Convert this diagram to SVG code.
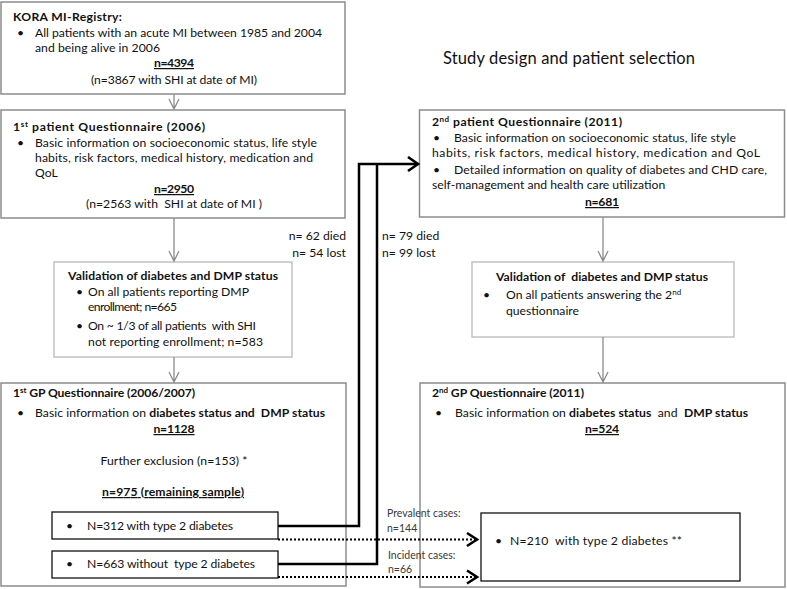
<svg xmlns="http://www.w3.org/2000/svg" width="787" height="589" viewBox="0 0 787 589">
<defs>
<style>
.t{font-family:Lato,"Liberation Sans",sans-serif;font-size:12.2px;fill:#111}
.b{font-weight:700}
.u{text-decoration:underline}
.c{text-anchor:middle}
.e{text-anchor:end}
.s{font-size:8px}
.sm{font-size:10.5px;fill:#3a3a3a}
.box{fill:#fff;stroke:#8c8c8c;stroke-width:1.5}
.vbox{fill:#fff;stroke:#c2c2c2;stroke-width:1.5}
.ibox{fill:#fff;stroke:#111;stroke-width:1.3}
.garrow{stroke:#8c8c8c;stroke-width:1.3;fill:none}
.blk{stroke:#000;stroke-width:2.5;fill:none}
.dot{stroke:#000;stroke-width:2.2;stroke-dasharray:2 2;fill:none}
.head{stroke:#000;stroke-width:2.6;fill:none}
</style>
</defs>
<rect width="787" height="589" fill="#fff"/>

<text class="t" x="443" y="64" textLength="252" style="font-size:16.5px">Study design and patient selection</text>

<g id="kora">
<rect class="box" x="1" y="2" width="344" height="92"/>
<text class="t b" x="13" y="21" textLength="109">KORA MI-Registry:</text>
<text class="t" x="17" y="37">•</text>
<text class="t" x="35" y="37" textLength="287">All patients with an acute MI between 1985 and 2004</text>
<text class="t" x="35" y="52" textLength="125">and being alive in 2006</text>
<text class="t b u c" x="174" y="67" textLength="40">n=4394</text>
<text class="t c" x="174" y="84" textLength="166">(n=3867 with SHI at date of MI)</text>
</g>

<g id="pq1">
<rect class="box" x="1" y="110" width="344" height="108"/>
<text class="t b" x="13" y="131" textLength="192">1<tspan class="s" dy="-4">st</tspan><tspan dy="4"> patient Questionnaire (2006)</tspan></text>
<text class="t" x="17" y="147">•</text>
<text class="t" x="35" y="147" textLength="282">Basic information on socioeconomic status, life style</text>
<text class="t" x="35" y="162" textLength="278">habits, risk factors, medical history, medication and</text>
<text class="t" x="35" y="177">QoL</text>
<text class="t b u c" x="174" y="193" textLength="40">n=2950</text>
<text class="t c" x="174" y="208" textLength="176" xml:space="preserve">(n=2563 with  SHI at date of MI )</text>
</g>

<g id="val1">
<rect class="vbox" x="54" y="262" width="238" height="95"/>
<text class="t b" x="68" y="280" textLength="210">Validation of diabetes and DMP status</text>
<text class="t" x="76" y="296">•</text>
<text class="t" x="88" y="296" textLength="161">On all patients reporting DMP</text>
<text class="t" x="88" y="311" textLength="89">enrollment; n=665</text>
<text class="t" x="76" y="330">•</text>
<text class="t" x="88" y="330" textLength="168" xml:space="preserve">On ~ 1/3 of all patients  with SHI</text>
<text class="t" x="88" y="346" textLength="175">not reporting enrollment; n=583</text>
</g>

<g id="gp1">
<rect class="box" x="1" y="383" width="345" height="203"/>
<text class="t b" x="13" y="397" textLength="182">1<tspan class="s" dy="-4">st</tspan><tspan dy="4"> GP Questionnaire (2006/2007)</tspan></text>
<text class="t" x="17" y="417">•</text>
<text class="t" x="35" y="417" textLength="290" xml:space="preserve">Basic information on <tspan class="b">diabetes status and  DMP status</tspan></text>
<text class="t b u c" x="174" y="433" textLength="41">n=1128</text>
<text class="t c" x="174" y="465" textLength="147">Further exclusion (n=153) *</text>
<text class="t b u c" x="173" y="496" textLength="142">n=975 (remaining sample)</text>
</g>

<g id="t2d">
<rect class="ibox" x="52" y="512" width="226" height="27"/>
<text class="t" x="66" y="530">•</text>
<text class="t" x="87" y="530" textLength="146">N=312 with type 2 diabetes</text>
</g>

<g id="not2d">
<rect class="ibox" x="52" y="551" width="226" height="27"/>
<text class="t" x="66" y="568">•</text>
<text class="t" x="87" y="568" textLength="168" xml:space="preserve">N=663 without  type 2 diabetes</text>
</g>

<g id="pq2">
<rect class="box" x="419.5" y="110" width="365" height="107"/>
<text class="t b" x="432" y="126" textLength="190">2<tspan class="s" dy="-4">nd</tspan><tspan dy="4"> patient Questionnaire (2011)</tspan></text>
<text class="t" x="433" y="142">•</text>
<text class="t" x="454" y="142" textLength="282">Basic information on socioeconomic status, life style</text>
<text class="t" x="432" y="157" textLength="328">habits, risk factors, medical history, medication and QoL</text>
<text class="t" x="433" y="174">•</text>
<text class="t" x="454" y="174" textLength="313">Detailed information on quality of diabetes and CHD care,</text>
<text class="t" x="432" y="189">self-management and health care utilization</text>
<text class="t b u c" x="602" y="206" textLength="34">n=681</text>
</g>

<g id="val2">
<rect class="vbox" x="472" y="262" width="262" height="75"/>
<text class="t b" x="496" y="281" textLength="212" xml:space="preserve">Validation of  diabetes and DMP status</text>
<text class="t" x="483" y="299">•</text>
<text class="t" x="506" y="299">On all patients answering the 2<tspan class="s" dy="-4">nd</tspan></text>
<text class="t" x="506" y="315">questionnaire</text>
</g>

<g id="gp2">
<rect class="box" x="420" y="383" width="365" height="204"/>
<text class="t b" x="432" y="397" textLength="152">2<tspan class="s" dy="-4">nd</tspan><tspan dy="4"> GP Questionnaire (2011)</tspan></text>
<text class="t" x="435" y="417">•</text>
<text class="t" x="455" y="417" textLength="293" xml:space="preserve">Basic information on <tspan class="b">diabetes status</tspan>  and  <tspan class="b">DMP status</tspan></text>
<text class="t b u c" x="602" y="433" textLength="34">n=524</text>
</g>

<g id="t2d2011">
<rect class="ibox" x="481" y="513" width="259" height="68"/>
<text class="t" x="495" y="545">•</text>
<text class="t" x="510" y="545" textLength="172" xml:space="preserve">N=210  with type 2 diabetes **</text>
</g>

<g id="connectors">
<path class="garrow" d="M174,94V109M169,99L174,109L179,99"/>
<path class="garrow" d="M174,218V261M169,251L174,261L179,251"/>
<path class="garrow" d="M174,357V382M169,372L174,382L179,372"/>
<path class="garrow" d="M603,217V261M598,251L603,261L608,251"/>
<path class="garrow" d="M603,337V382M598,372L603,382L608,372"/>
<path class="blk" d="M278,526H359V164H417"/>
<path class="blk" d="M278,564H377V164"/>
<path class="head" d="M408,157L418,164L408,171"/>
<path class="dot" d="M278,539.5H476"/>
<path class="head" d="M467,533L477,539.5L467,546"/>
<path class="dot" d="M278,577H476"/>
<path class="head" d="M467,570.5L477,577L467,583.5"/>
<text class="t e" x="346" y="240">n= 62 died</text>
<text class="t e" x="346" y="257">n= 54 lost</text>
<text class="t" x="382" y="240">n= 79 died</text>
<text class="t" x="382" y="257">n= 99 lost</text>
<text class="t sm" x="387" y="517">Prevalent cases:</text>
<text class="t sm" x="387" y="532">n=144</text>
<text class="t sm" x="388" y="559">Incident cases:</text>
<text class="t sm" x="388" y="573">n=66</text>
</g>
</svg>
